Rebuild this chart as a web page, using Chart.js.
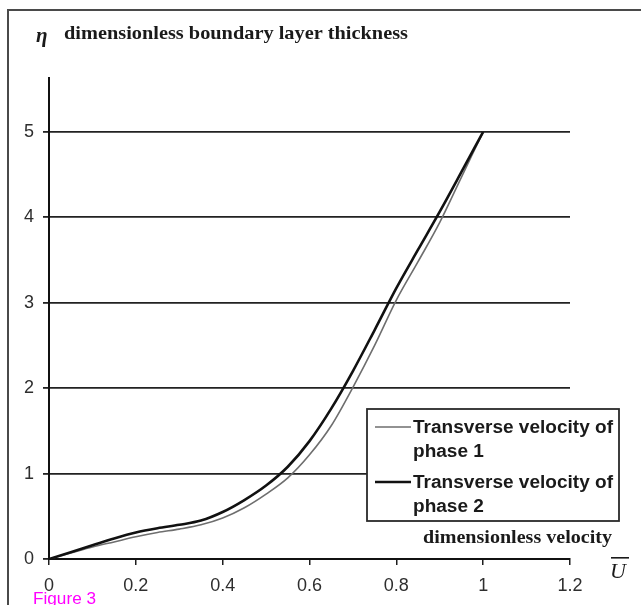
<!DOCTYPE html>
<html>
<head>
<meta charset="utf-8">
<script src="https://cdn.jsdelivr.net/npm/chart.js@4.4.1/dist/chart.umd.min.js"></script>
<style>
  html, body { margin: 0; padding: 0; background: #ffffff; }
  #wrap { width: 641px; height: 605px; position: relative; }
</style>
</head>
<body>
<div id="wrap"><canvas id="c" width="641" height="605"></canvas></div>
<script>
// ---- data ----
const velocity = [0, 0.05, 0.1, 0.15, 0.2, 0.25, 0.3, 0.35, 0.4, 0.45, 0.5, 0.55, 0.6, 0.65, 0.7, 0.75, 0.8, 0.85, 0.9, 0.95, 1.0];
const phase1Eta = [0, 0.07, 0.14, 0.20, 0.26, 0.31, 0.35, 0.40, 0.48, 0.60, 0.76, 0.95, 1.22, 1.56, 2.01, 2.50, 3.03, 3.48, 3.94, 4.47, 5.0];
const phase2Eta = [0, 0.08, 0.16, 0.24, 0.31, 0.36, 0.40, 0.45, 0.55, 0.69, 0.86, 1.08, 1.38, 1.76, 2.20, 2.68, 3.17, 3.62, 4.065, 4.53, 5.0];
const xTickValues = [0, 0.2, 0.4, 0.6, 0.8, 1, 1.2];
const xTickLabels = ['0', '0.2', '0.4', '0.6', '0.8', '1', '1.2'];
const yTickValues = [0, 1, 2, 3, 4, 5];
const yTickLabels = ['0', '1', '2', '3', '4', '5'];
const seriesNames = ['Transverse velocity of phase 1', 'Transverse velocity of phase 2'];
const yTitleSymbol = 'η';
const yTitle = 'dimensionless boundary layer thickness';
const xTitle = 'dimensionless velocity';
const xSymbol = 'U';
const caption = 'Figure 3';
const xMin = 0, xMax = 1.2, yMin = 0, yMax = 5.63;

const toPoints = (xs, ys) => xs.map((x, i) => ({ x: x, y: ys[i] }));

function fittedText(ctx, text, x, y, font, targetW, align) {
  ctx.save();
  ctx.font = font;
  const w = ctx.measureText(text).width;
  const s = targetW ? targetW / w : 1;
  ctx.translate(x, y);
  ctx.scale(s, 1);
  ctx.textAlign = align || 'left';
  ctx.fillText(text, 0, 0);
  ctx.restore();
}

const decor = {
  id: 'decor',
  beforeDraw(chart) {
    const ctx = chart.ctx;
    ctx.save();
    ctx.fillStyle = '#ffffff';
    ctx.fillRect(0, 0, chart.width, chart.height);
    ctx.restore();
  },
  afterDraw(chart) {
    const ctx = chart.ctx;
    ctx.save();
    // outer frame (cut by the picture edge)
    ctx.strokeStyle = '#4a4a4a';
    ctx.lineWidth = 2;
    ctx.strokeRect(8, 10, 700, 700);

    ctx.fillStyle = '#1a1a1a';
    ctx.textBaseline = 'alphabetic';
    // y title
    fittedText(ctx, yTitleSymbol, 36, 42, 'italic bold 21px "Liberation Serif"', 0, 'left');
    fittedText(ctx, yTitle, 64, 39, 'bold 19px "Liberation Serif"', 344, 'left');
    // x title
    fittedText(ctx, xTitle, 423, 543, 'bold 19px "Liberation Serif"', 189, 'left');
    // U with overline
    ctx.font = 'italic 22px "Liberation Serif"';
    ctx.fillText(xSymbol, 610, 578);
    ctx.fillRect(611, 557, 18, 1.6);

    // legend
    const lx = 367, ly = 409, lw = 252, lh = 112;
    ctx.fillStyle = '#ffffff';
    ctx.fillRect(lx, ly, lw, lh);
    ctx.strokeStyle = '#2a2a2a';
    ctx.lineWidth = 1.8;
    ctx.strokeRect(lx, ly, lw, lh);
    const ds = chart.data.datasets;
    const rows = [427, 482];
    ds.forEach((d, i) => {
      ctx.strokeStyle = d.borderColor;
      ctx.lineWidth = d.borderWidth;
      ctx.beginPath();
      ctx.moveTo(375, rows[i]);
      ctx.lineTo(411, rows[i]);
      ctx.stroke();
      const name = seriesNames[i];
      const cut = name.lastIndexOf(' of ') + 3;
      const l1 = name.slice(0, cut);
      const l2 = name.slice(cut + 1);
      ctx.fillStyle = '#1a1a1a';
      ctx.save();
      ctx.font = 'bold 18px "Liberation Sans"';
      const w1 = ctx.measureText(l1).width;
      const s = 200 / w1;
      ctx.textBaseline = 'alphabetic';
      ctx.save(); ctx.translate(413, rows[i] + 6); ctx.scale(s, 1); ctx.fillText(l1, 0, 0); ctx.restore();
      ctx.save(); ctx.translate(413, rows[i] + 30); ctx.scale(s, 1); ctx.fillText(l2, 0, 0); ctx.restore();
      ctx.restore();
    });

    // caption
    ctx.fillStyle = '#ff00ff';
    fittedText(ctx, caption, 33, 604, '17px "Liberation Sans"', 63, 'left');
    ctx.restore();
  }
};

new Chart(document.getElementById('c'), {
  type: 'line',
  data: {
    datasets: [
      {
        label: seriesNames[0],
        data: toPoints(velocity, phase1Eta),
        borderColor: '#6e6e6e',
        borderWidth: 1.6,
        pointRadius: 0,
        cubicInterpolationMode: 'monotone',
        fill: false,
        order: 2
      },
      {
        label: seriesNames[1],
        data: toPoints(velocity, phase2Eta),
        borderColor: '#111111',
        borderWidth: 2.6,
        pointRadius: 0,
        cubicInterpolationMode: 'monotone',
        fill: false,
        order: 1
      }
    ]
  },
  options: {
    responsive: false,
    animation: false,
    events: [],
    layout: { padding: { left: 0, top: 78, right: 71, bottom: 0 } },
    plugins: { legend: { display: false }, tooltip: { enabled: false }, title: { display: false } },
    scales: {
      x: {
        type: 'linear',
        min: xMin, max: xMax,
        afterBuildTicks: (s) => { s.ticks = xTickValues.map(v => ({ value: v })); },
        afterFit: (s) => { s.height = 46; },
        ticks: {
          callback: (v) => { const i = xTickValues.indexOf(v); return i >= 0 ? xTickLabels[i] : ''; },
          font: { family: '"Liberation Sans"', size: 18 },
          color: '#2e2e2e',
          padding: 10,
          maxRotation: 0,
          autoSkip: false
        },
        grid: { drawOnChartArea: false, drawTicks: true, tickLength: 6, color: '#1e1e1e', lineWidth: 1.5 },
        border: { display: true, color: '#111111', width: 2 }
      },
      y: {
        type: 'linear',
        min: yMin, max: yMax,
        afterBuildTicks: (s) => { s.ticks = yTickValues.map(v => ({ value: v })); },
        afterFit: (s) => { s.width = 49; },
        ticks: {
          callback: (v) => { const i = yTickValues.indexOf(v); return i >= 0 ? yTickLabels[i] : ''; },
          font: { family: '"Liberation Sans"', size: 18 },
          color: '#2e2e2e',
          padding: 9,
          autoSkip: false
        },
        grid: { drawOnChartArea: true, drawTicks: true, tickLength: 6, color: '#222222', lineWidth: 1.8 },
        border: { display: true, color: '#111111', width: 2 }
      }
    }
  },
  plugins: [decor]
});
</script>
</body>
</html>
